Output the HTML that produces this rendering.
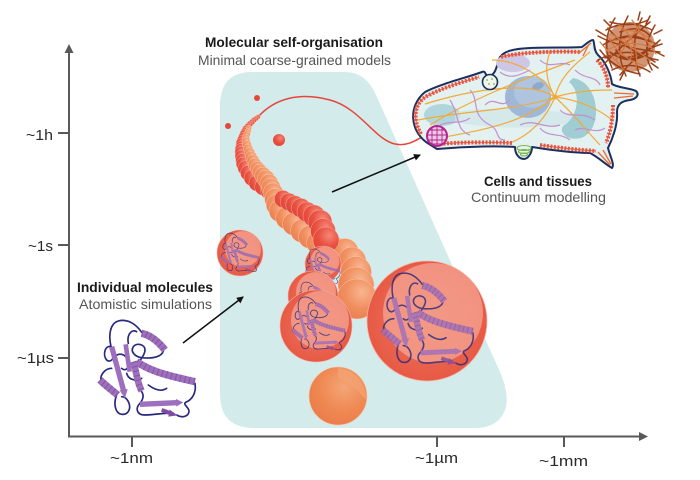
<!DOCTYPE html>
<html><head><meta charset="utf-8"><style>
html,body{margin:0;padding:0;background:#fff;}
svg{display:block;}
</style></head><body>
<svg width="700" height="480" viewBox="0 0 700 480" xmlns="http://www.w3.org/2000/svg">
<defs>
<radialGradient id="gRed" cx="0.62" cy="0.33" r="0.75"><stop offset="0" stop-color="#f5877a"/><stop offset="0.55" stop-color="#e9503f"/><stop offset="1" stop-color="#e0443a"/></radialGradient>
<radialGradient id="gOr" cx="0.62" cy="0.33" r="0.75"><stop offset="0" stop-color="#f8b590"/><stop offset="0.55" stop-color="#f08e5e"/><stop offset="1" stop-color="#ea7d50"/></radialGradient>
<radialGradient id="gPS" cx="0.5" cy="0.5" r="0.5"><stop offset="0" stop-color="#ee7560"/><stop offset="1" stop-color="#e75a45"/></radialGradient>
<radialGradient id="gF" cx="0.6" cy="0.35" r="0.7"><stop offset="0" stop-color="#f4a577"/><stop offset="0.6" stop-color="#ef8852"/><stop offset="1" stop-color="#eb7c4a"/></radialGradient>
<marker id="ah" markerWidth="8" markerHeight="8" refX="6" refY="3.5" orient="auto" markerUnits="userSpaceOnUse"><path d="M0,0 L7,3.5 L0,7 Z" fill="#111"/></marker>
<g id="prot">
 <g transform="scale(0.3333)">
  <g fill="none" stroke="#27287e" stroke-width="5" stroke-linecap="round">
   <path d="M48,95 C40,60 45,25 70,18 C100,10 125,30 140,52"/>
   <path d="M48,95 C30,90 22,120 35,135 C45,145 60,130 55,115"/>
   <path d="M205,108 C200,125 175,132 140,128 C120,125 105,110 115,95 C125,82 150,88 150,105 C150,120 135,135 130,145"/>
   <path d="M100,85 C95,60 110,40 125,50"/>
   <path d="M50,160 C30,160 15,180 18,195"/>
   <path d="M65,240 C55,265 60,295 80,298 C100,300 110,280 100,260 C95,250 88,245 80,245"/>
   <path d="M135,265 C120,280 125,300 150,300 C180,300 210,292 235,295"/>
   <path d="M300,205 C305,235 290,255 272,262 C262,268 285,280 282,290 C280,305 260,310 245,300"/>
   <path d="M140,230 C150,245 140,258 135,265"/>
   <path d="M95,175 C100,195 125,200 140,190"/>
   <path d="M60,125 C75,110 95,120 100,140 C105,160 90,170 80,160"/>
   <path d="M160,210 C180,225 200,230 215,220"/>
  </g>
  <g fill="none" stroke-linecap="butt">
   <path d="M50,95 L86,228" stroke="#9d6fbd" stroke-width="16"/>
   <path d="M92,88 L104,170" stroke="#9d6fbd" stroke-width="14"/>
   <path d="M140,55 C165,60 190,80 210,105" stroke="#9d6fbd" stroke-width="22"/>
   <path d="M140,55 C165,60 190,80 210,105" stroke="#85559f" stroke-width="22" stroke-dasharray="3 10"/>
   <path d="M125,140 C160,165 200,178 300,200" stroke="#9d6fbd" stroke-width="22"/>
   <path d="M125,140 C160,165 200,178 300,200" stroke="#85559f" stroke-width="22" stroke-dasharray="3 11"/>
   <path d="M15,195 C30,210 50,225 68,240" stroke="#9d6fbd" stroke-width="22"/>
   <path d="M15,195 C30,210 50,225 68,240" stroke="#85559f" stroke-width="22" stroke-dasharray="3 10"/>
   <path d="M115,140 C125,170 125,200 140,228" stroke="#9d6fbd" stroke-width="20"/>
   <path d="M115,140 C125,170 125,200 140,228" stroke="#85559f" stroke-width="20" stroke-dasharray="3 11"/>
   <path d="M135,268 L245,263" stroke="#9d6fbd" stroke-width="16"/>
   <path d="M200,285 L228,295" stroke="#7e4ca0" stroke-width="12"/>
  </g>
  <polygon points="74,226 98,222 90,250" fill="#9d6fbd"/>
  <polygon points="243,252 265,262 244,275" fill="#9d6fbd"/>
  <polygon points="224,284 248,301 220,305" fill="#7e4ca0"/>
 </g>
</g>
</defs>

<!-- teal region -->
<path d="M252,72 L345,72 Q366,72 376,95 L500,372 Q510,395 505,410 Q498,428 475,428 L254,428 Q220,428 220,394 L220,106 Q220,72 252,72 Z" fill="#d3ebeb"/>

<!-- axes -->
<g stroke="#595959" stroke-width="2" fill="none">
 <line x1="69" y1="437" x2="69" y2="51"/>
 <line x1="68" y1="436.5" x2="641" y2="436.5"/>
 <line x1="58" y1="133" x2="69" y2="133"/>
 <line x1="58" y1="245" x2="69" y2="245"/>
 <line x1="58" y1="358" x2="69" y2="358"/>
 <line x1="132" y1="436" x2="132" y2="447"/>
 <line x1="437" y1="436" x2="437" y2="447"/>
 <line x1="564" y1="436" x2="564" y2="447"/>
</g>
<polygon points="69,44 64.5,53 73.5,53" fill="#595959"/>
<polygon points="648,436.5 639,432 639,441" fill="#595959"/>

<g font-family="'Liberation Sans', sans-serif" fill="#2a2a2a" font-size="15">
 <text x="26" y="140" textLength="27" lengthAdjust="spacingAndGlyphs">~1h</text>
 <text x="28" y="251" textLength="25" lengthAdjust="spacingAndGlyphs">~1s</text>
 <text x="17" y="363" textLength="37" lengthAdjust="spacingAndGlyphs">~1µs</text>
 <text x="110" y="463" textLength="43" lengthAdjust="spacingAndGlyphs">~1nm</text>
 <text x="415" y="463" textLength="43" lengthAdjust="spacingAndGlyphs">~1µm</text>
 <text x="539" y="466" textLength="49" lengthAdjust="spacingAndGlyphs">~1mm</text>
</g>

<g font-family="'Liberation Sans', sans-serif" font-size="14">
 <text x="205" y="47" font-weight="bold" fill="#1a1a1a" textLength="178" lengthAdjust="spacingAndGlyphs">Molecular self-organisation</text>
 <text x="198" y="65" fill="#555" textLength="193" lengthAdjust="spacingAndGlyphs">Minimal coarse-grained models</text>
 <text x="484" y="186" font-weight="bold" fill="#1a1a1a" textLength="108" lengthAdjust="spacingAndGlyphs">Cells and tissues</text>
 <text x="471" y="202" fill="#555" textLength="135" lengthAdjust="spacingAndGlyphs">Continuum modelling</text>
 <text x="77" y="292" font-weight="bold" fill="#1a1a1a" textLength="136" lengthAdjust="spacingAndGlyphs">Individual molecules</text>
 <text x="79" y="309" fill="#555" textLength="133" lengthAdjust="spacingAndGlyphs">Atomistic simulations</text>
</g>

<!-- red string -->
<path d="M258,117 C275,98 300,92 330,100 C360,108 375,140 395,144 C410,147 418,138 430,133" fill="none" stroke="#e8453a" stroke-width="1.5"/>
<circle cx="257" cy="98" r="3" fill="#e8453a"/>
<circle cx="228" cy="126" r="3" fill="#e8453a"/>
<circle cx="279" cy="140" r="6" fill="url(#gRed)"/>

<!-- red strand part 1 -->
<g fill="url(#gRed)" stroke="#f6c1b3" stroke-width="0.4">
 <circle cx="258" cy="117" r="2.2"/><circle cx="256" cy="118.5" r="2.4"/><circle cx="254" cy="120" r="2.6"/>
 <circle cx="252" cy="122" r="2.8"/><circle cx="250" cy="124" r="3"/><circle cx="248" cy="126.5" r="3.3"/>
 <circle cx="246" cy="129" r="3.6"/><circle cx="245" cy="131.5" r="3.9"/><circle cx="244" cy="134" r="4.2"/>
 <circle cx="243" cy="137" r="4.5"/><circle cx="242" cy="140" r="4.8"/><circle cx="241" cy="143" r="5"/>
 <circle cx="241" cy="146" r="5.2"/><circle cx="240.5" cy="149" r="5.4"/><circle cx="240.5" cy="152" r="5.6"/>
 <circle cx="241" cy="156" r="6"/><circle cx="242" cy="160" r="6.4"/><circle cx="243" cy="164" r="6.8"/>
 <circle cx="245" cy="168" r="7.2"/><circle cx="248" cy="173" r="7.6"/><circle cx="252" cy="178" r="8"/>
 <circle cx="257" cy="183" r="8.2"/><circle cx="263" cy="187" r="8.3"/><circle cx="269" cy="191" r="8.4"/>
 <circle cx="275" cy="195" r="8.5"/>
</g>
<!-- orange strand -->
<g fill="url(#gOr)" stroke="#fbd3bd" stroke-width="0.4">
 <circle cx="249" cy="128" r="2.6"/><circle cx="248" cy="131" r="2.9"/><circle cx="247" cy="134" r="3.2"/>
 <circle cx="246" cy="138" r="3.6"/><circle cx="246" cy="141" r="4"/><circle cx="247" cy="145" r="4.4"/>
 <circle cx="248" cy="149" r="4.8"/><circle cx="249.5" cy="153" r="5.3"/><circle cx="251" cy="157" r="5.8"/>
 <circle cx="253" cy="161" r="6.3"/><circle cx="255" cy="165" r="6.8"/><circle cx="257.5" cy="168.5" r="7.3"/>
 <circle cx="260" cy="172" r="7.8"/><circle cx="263" cy="175.5" r="8.3"/><circle cx="266" cy="179" r="8.8"/>
 <circle cx="269" cy="183.5" r="9.2"/><circle cx="271" cy="188" r="9.6"/><circle cx="273" cy="193" r="10"/>
 <circle cx="275" cy="199" r="10.4"/><circle cx="277" cy="205" r="10.8"/><circle cx="280" cy="211" r="11"/>
 <circle cx="287" cy="218" r="11.3"/><circle cx="294" cy="224" r="11.5"/><circle cx="302" cy="231" r="11.5"/>
 <circle cx="310" cy="237" r="11.5"/><circle cx="318" cy="243" r="11.5"/><circle cx="326" cy="248" r="12"/>
 <circle cx="336" cy="250" r="12.5"/><circle cx="345" cy="252" r="13.5"/><circle cx="352" cy="261" r="14"/>
 <circle cx="356" cy="272" r="15.5"/><circle cx="356" cy="285" r="18"/><circle cx="357" cy="299" r="20"/>
</g>
<!-- red strand part 2 -->
<g fill="url(#gRed)" stroke="#f6c1b3" stroke-width="0.4">
 <circle cx="283" cy="199" r="8.6"/><circle cx="289" cy="202" r="8.8"/><circle cx="295" cy="205" r="9.2"/>
 <circle cx="301" cy="208" r="9.6"/><circle cx="307" cy="212" r="10"/><circle cx="314" cy="216" r="11"/>
 <circle cx="320" cy="222" r="12"/><circle cx="323" cy="231" r="12.5"/><circle cx="326" cy="240" r="13"/>
</g>

<!-- protein spheres -->
<g>
 <circle cx="240" cy="253" r="23" fill="url(#gPS)" stroke="#f3b4a5" stroke-width="0.6"/>
 <circle cx="243" cy="249" r="18" fill="#f4a593" opacity="0.75"/>
 <use href="#prot" transform="translate(219,231) scale(0.4)" opacity="0.8"/>
</g>
<g>
 <circle cx="323" cy="264" r="18" fill="url(#gPS)" stroke="#f3b4a5" stroke-width="0.6"/>
 <circle cx="325" cy="261" r="14.5" fill="#f4a593" opacity="0.75"/>
 <use href="#prot" transform="translate(304,247) scale(0.36)" opacity="0.8"/>
</g>
<g>
 <circle cx="313" cy="296" r="25" fill="url(#gPS)" stroke="#f3b4a5" stroke-width="0.6"/>
 <circle cx="316" cy="292" r="20" fill="#f4a593" opacity="0.75"/>
 <use href="#prot" transform="translate(295,280) scale(0.4)" opacity="0.8"/>
</g>
<g>
 <circle cx="316" cy="326" r="36" fill="url(#gPS)" stroke="#f3b4a5" stroke-width="0.6"/>
 <circle cx="320" cy="320" r="29" fill="#f4a593" opacity="0.75"/>
 <use href="#prot" transform="translate(290,294) scale(0.55)" opacity="0.8"/>
</g>
<g>
 <circle cx="427" cy="321" r="60" fill="url(#gPS)" stroke="#f3b4a5" stroke-width="0.8"/>
 <circle cx="433" cy="313" r="50" fill="#f4a593" opacity="0.75"/>
 <use href="#prot" transform="translate(378,268) scale(0.95)" opacity="0.8"/>
</g>
<g>
 <circle cx="338" cy="396" r="29" fill="url(#gF)" stroke="#f8c6a6" stroke-width="0.6"/>
 <path d="M338,368 C356,369 367,385 366,400 C360,392 350,382 338,378 Z" fill="#f4a475" opacity="0.7"/>
</g>

<!-- main protein -->
<use href="#prot" transform="translate(95,315)"/>

<!-- arrows -->
<line x1="183" y1="343" x2="243" y2="297" stroke="#111" stroke-width="1.5" marker-end="url(#ah)"/>
<line x1="332" y1="192" x2="420" y2="155" stroke="#111" stroke-width="1.5" marker-end="url(#ah)"/>

<!-- cell -->
<path d="M426,142 C410,130 408,106 425,92 C440,84 465,78 482,72 C486,70 485,76 488,76 C494,76 496,70 498,62 C500,52 510,49 530,48 C550,47 570,48 582,47 C586,44 590,40 593,40 C595,42 593,50 598,55 C606,62 611,75 612,84 C618,88 630,88 636,91 C640,95 636,99 630,100 C622,101 617,104 617,112 C618,125 612,140 608,148 C610,156 615,165 612,168 C605,164 598,157 590,153 C575,153 550,150 532,147 C532,153 528,159 524,159 C519,159 515,154 515,147 C500,146 470,146 437,149 Z" fill="#e3f1f1" stroke="#1c2f5e" stroke-width="2" stroke-linejoin="round"/>
<ellipse cx="442" cy="115" rx="18" ry="11" fill="#a8d0d8" opacity="0.85"/>
<path d="M455,112 C490,106 560,108 590,118 C560,130 490,130 455,122 Z" fill="#cfe5e8" opacity="0.7"/>
<ellipse cx="513" cy="63" rx="17" ry="9" fill="#cdc6e4"/>
<path d="M573,78 C600,82 604,130 581,138 C566,141 559,132 563,126 C578,118 582,92 569,82 Z" fill="#9fcdd3"/>
<ellipse cx="528" cy="97" rx="23" ry="21" fill="#9fb8d8"/>
<ellipse cx="532" cy="92" rx="18" ry="16" fill="#aec4df"/>
<ellipse cx="538" cy="86" rx="6" ry="3.5" fill="#8ea9cc" transform="rotate(-20 538 86)"/>

<!-- orange fibers -->
<g fill="none" stroke="#f1aa38" stroke-width="1.2">
 <path d="M555,97 C520,110 470,110 418,120"/>
 <path d="M555,97 C530,80 470,90 425,104"/>
 <path d="M555,97 C520,125 480,130 440,138"/>
 <path d="M555,97 C540,70 510,60 492,60"/>
 <path d="M555,97 C560,75 580,60 590,52"/>
 <path d="M555,97 C580,90 600,90 612,90"/>
 <path d="M555,97 C580,100 600,110 612,120"/>
 <path d="M555,97 C575,115 590,135 600,145"/>
 <path d="M555,97 C545,120 530,135 510,143"/>
 <path d="M430,125 C470,100 520,80 575,60"/>
 <path d="M555,97 C545,80 545,65 550,52"/>
</g>
<circle cx="555" cy="97" r="2.5" fill="#f1aa38"/>
<!-- purple fibers -->
<g fill="none" stroke="#c48fd2" stroke-width="1.2">
 <path d="M450,100 C460,115 455,130 470,135"/>
 <path d="M470,90 C480,100 470,115 490,125 C500,130 495,140 505,140"/>
 <path d="M500,72 C510,80 520,75 530,70"/>
 <path d="M540,60 C550,70 560,60 570,65"/>
 <path d="M560,110 C570,120 580,110 595,120"/>
 <path d="M575,70 C585,80 595,75 600,85"/>
 <path d="M520,125 C535,118 545,130 560,125"/>
 <path d="M440,125 C450,120 460,125 470,118"/>
 <path d="M575,130 C585,125 595,135 605,128"/>
 <path d="M485,105 C495,95 500,110 510,100"/>
 <path d="M540,128 C548,138 560,132 570,140"/>
</g>

<!-- cortex -->
<g fill="none" stroke="#e9553f">
 <g stroke-width="4" stroke-dasharray="2 1.5">
  <path d="M421,134 C413,120 413,104 427,96 C442,88 462,82 479,77"/>
  <path d="M501,57 C520,52 560,51 580,52"/>
  <path d="M597,60 C605,68 608,78 608,88"/>
  <path d="M613,105 C613,120 610,133 606,143"/>
  <path d="M540,145 C560,148 580,150 596,151"/>
  <path d="M440,144 C460,142 490,142 512,143"/>
 </g>
 <g stroke-width="0.9">
  <path d="M421,134 C413,120 413,104 427,96 C442,88 462,82 479,77"/>
  <path d="M501,57 C520,52 560,51 580,52"/>
  <path d="M597,60 C605,68 608,78 608,88"/>
  <path d="M613,105 C613,120 610,133 606,143"/>
  <path d="M540,145 C560,148 580,150 596,151"/>
  <path d="M440,144 C460,142 490,142 512,143"/>
 </g>
 <path d="M591,43 L578,54 M589,44 L583,56 M634,94 L614,93 M633,96 L614,98 M610,165 L598,152 M611,164 L603,150" stroke="#ef6a35" stroke-width="1.3"/>
</g>

<!-- vesicle -->
<circle cx="490" cy="82" r="7.5" fill="#f0f5ec" stroke="#1c2f5e" stroke-width="1.6"/>
<g fill="#7ab648"><circle cx="487" cy="80" r="0.9"/><circle cx="492" cy="79" r="0.9"/><circle cx="489" cy="84" r="0.9"/><circle cx="494" cy="84" r="0.9"/></g>
<!-- green spiral -->
<g fill="none" stroke="#7ab648" stroke-width="1.1">
 <ellipse cx="524" cy="148" rx="7" ry="2.5"/><ellipse cx="524" cy="151.5" rx="5.5" ry="2"/><ellipse cx="524" cy="154.5" rx="3.5" ry="1.5"/>
</g>
<!-- pink sphere -->
<circle cx="437" cy="136" r="10" fill="#ecc9e6" stroke="#b4248c" stroke-width="2"/>
<g stroke="#b4248c" stroke-width="0.9" fill="none">
 <path d="M429,130 L445,130 M428,135 L446,135 M428,140 L446,140 M431,144 L443,144"/>
 <path d="M432,127 L432,145 M437,126 L437,146 M442,127 L442,145"/>
</g>

<!-- rust ball -->
<circle cx="630" cy="47" r="25" fill="#b85a2a" opacity="0.65"/>
<g fill="none" stroke="#9a3f17" stroke-width="1.5" stroke-linecap="round">
 <path d="M606,30 Q628,18 652,30"/><path d="M603,45 Q625,30 657,44"/><path d="M605,58 Q630,45 655,62"/>
 <path d="M612,70 Q632,60 650,72"/><path d="M610,22 Q632,28 648,20"/><path d="M600,50 Q615,70 640,74"/>
 <path d="M615,18 Q600,40 612,68"/><path d="M628,16 Q612,45 626,76"/><path d="M642,18 Q628,45 640,76"/>
 <path d="M655,25 Q640,50 652,70"/><path d="M660,40 Q645,55 625,58"/><path d="M598,36 Q620,48 660,52"/>
 <path d="M604,64 Q628,40 650,22"/><path d="M608,28 Q630,55 658,60"/><path d="M620,75 Q640,50 662,44"/>
 <path d="M596,30 L606,36 M650,16 L646,24 M664,56 L656,52 M620,80 L624,72 M598,60 L606,56 M640,12 L638,20 M662,30 L654,34 M604,20 L611,27 M658,68 L651,63"/>
 <path d="M614,40 Q630,32 646,40 Q652,52 636,58 Q620,60 616,50"/>
 <path d="M620,32 Q640,24 650,36"/><path d="M610,52 Q628,66 648,54"/>
</g>
<g fill="none" stroke="#d4783f" stroke-width="1.2" stroke-linecap="round">
 <path d="M612,34 L650,60"/><path d="M616,60 L640,24"/><path d="M632,20 L656,54"/><path d="M600,42 L624,70"/>
 <path d="M607,50 Q630,38 652,48"/><path d="M618,24 Q640,40 636,70"/><path d="M610,40 Q622,60 646,66"/>
 <path d="M622,30 Q645,30 654,44"/><path d="M625,40 Q635,50 630,60"/><path d="M640,30 Q620,45 608,38"/>
</g>
</svg>
</body></html>
